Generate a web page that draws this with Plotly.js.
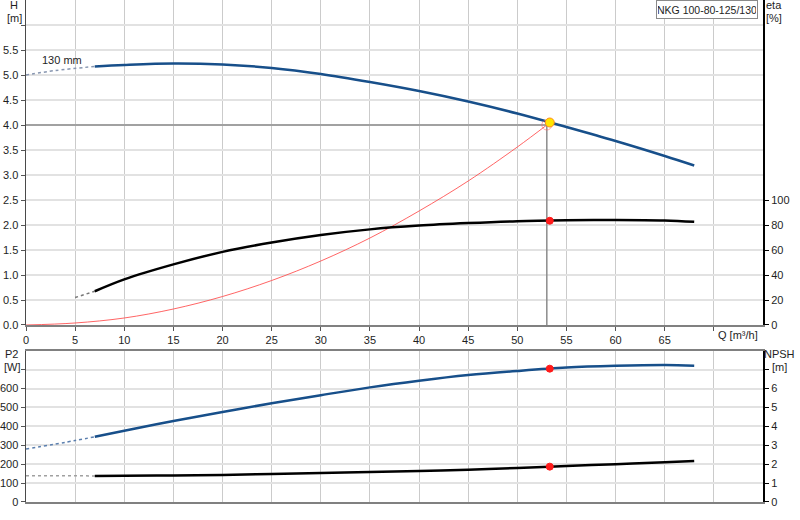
<!DOCTYPE html>
<html>
<head>
<meta charset="utf-8">
<script src="https://cdn.plot.ly/plotly-3.0.1.min.js"></script>
<style>
  html, body { margin: 0; padding: 0; background: #fff; }
  #chart { width: 800px; height: 520px; }
</style>
</head>
<body>
<div id="chart"></div>
<script>
// Pump curve: head / efficiency on top, power / NPSH below

const pumpName = 'NKG 100-80-125/130';
const impellerLabel = '130 mm';

// Flow values (m³/h) along the drawn curves
const qCurve = [7, 10, 15, 20, 25, 30, 35, 40, 45, 50, 55, 60, 65, 68];

// Head H [m]
const headExtQ = [0, 3, 7];
const headExt = [5.0, 5.09, 5.17];
const head = [5.17, 5.20, 5.23, 5.21, 5.14, 5.02, 4.86, 4.68, 4.47, 4.23, 3.96, 3.68, 3.38, 3.19];

// Efficiency eta [%]
const etaExtQ = [5, 7];
const etaExt = [22, 27];
const eta = [27, 36.5, 48.5, 58.5, 66, 72, 76.5, 79.5, 81.5, 83, 83.7, 84, 83.6, 82.5];

// System curve (red)
const sysQ = [0, 5, 10, 15, 20, 25, 30, 35, 40, 45, 50, 53];
const sysH = [0, 0.04, 0.14, 0.32, 0.57, 0.89, 1.28, 1.74, 2.28, 2.88, 3.56, 4.0];

// Power P2 [W]
const p2ExtQ = [0, 5, 7];
const p2Ext = [280, 325, 345];
const p2 = [345, 377, 428, 476, 522, 565, 606, 641, 671, 693, 711, 720, 724, 721];

// NPSH [m]
const npshExtQ = [0, 7];
const npshExt = [1.39, 1.38];
const npsh = [1.38, 1.39, 1.40, 1.43, 1.48, 1.53, 1.58, 1.64, 1.71, 1.80, 1.90, 2.00, 2.10, 2.17];

// Duty point and operating point
const dutyQ = 53;
const dutyH = 4.0;
const opQ = 53.3;
const opH = 4.05;
const opEta = 83.4;
const opP2 = 705;
const opNpsh = 1.87;

// Tick labels
const qTicks = [0, 5, 10, 15, 20, 25, 30, 35, 40, 45, 50, 55, 60, 65, 70];
const hTicks = [0, 0.5, 1, 1.5, 2, 2.5, 3, 3.5, 4, 4.5, 5, 5.5, 6];
const etaTicks = [0, 20, 40, 60, 80, 100];
const p2Ticks = [0, 100, 200, 300, 400, 500, 600, 700];
const npshTicks = [0, 1, 2, 3, 4, 5, 6, 7];

const BLUE = '#174f8a';
const INK = '#1e1e1e';
const GRID_H = '#e2e2e2';
const GRID_V = '#cbcbcb';
const FONT = { family: 'Liberation Sans, Arial, sans-serif', size: 11, color: INK };

const line = (x, y, xa, ya, color, width, dash, opacity, shape) => ({
  type: 'scatter', mode: 'lines', x, y, xaxis: xa, yaxis: ya,
  line: { color, width, dash: dash || 'solid', shape: shape || 'spline', smoothing: 1 },
  opacity: opacity == null ? 1 : opacity,
  hoverinfo: 'skip', showlegend: false,
});

const dot = (x, y, xa, ya, color, size, outline) => ({
  type: 'scatter', mode: 'markers', x: [x], y: [y], xaxis: xa, yaxis: ya,
  marker: { color, size, line: { color: outline || color, width: 1 } },
  hoverinfo: 'skip', showlegend: false,
});

const traces = [
  // top plot
  line(sysQ, sysH, 'x', 'y', '#ff4a4a', 1, 'solid', 0.85),
  line([0, dutyQ, dutyQ], [dutyH, dutyH, 0], 'x', 'y', '#8c8c8c', 1.5, 'solid', 1, 'linear'),
  line(headExtQ, headExt, 'x', 'y', '#8796b0', 1.5, 'dot'),
  line(qCurve, head, 'x', 'y', BLUE, 2.5),
  line(etaExtQ, etaExt, 'x', 'y2', '#777777', 1.5, 'dot'),
  line(qCurve, eta, 'x', 'y2', '#000000', 2.5),
  {
    type: 'scatter', mode: 'markers', x: [dutyQ], y: [dutyH], xaxis: 'x', yaxis: 'y',
    marker: { symbol: 'circle-open', color: '#ff6b6b', size: 10, line: { width: 1 } },
    opacity: 0.6, hoverinfo: 'skip', showlegend: false,
  },
  dot(opQ, opH, 'x', 'y', '#ffe600', 9, '#ff8c1a'),
  dot(opQ, opEta, 'x', 'y2', '#ff1a1a', 7),
  // bottom plot
  line(p2ExtQ, p2Ext, 'x2', 'y3', '#5b7fae', 1.5, 'dot'),
  line(qCurve, p2, 'x2', 'y3', BLUE, 2.5),
  line(npshExtQ, npshExt, 'x2', 'y4', '#a0a0a0', 1.5, 'dot'),
  line(qCurve, npsh, 'x2', 'y4', '#000000', 2.5),
  dot(opQ, opP2, 'x2', 'y3', '#ff1a1a', 7),
  dot(opQ, opNpsh, 'x2', 'y4', '#ff1a1a', 7),
];

const fmt1 = v => v.toFixed(1);

const X_BASE = {
  range: [0, 75], tickvals: qTicks, showgrid: true, gridcolor: GRID_V, gridwidth: 1,
  zeroline: false, ticks: 'outside', ticklen: 4, tickcolor: '#555',
  showline: true, linecolor: '#808080', linewidth: 2,
};

const annots = [
  { text: 'H', x: -0.016, y: 0.990 },
  { text: '[m]', x: -0.016, y: 0.964 },
  { text: 'eta', x: 1.015, y: 0.990 },
  { text: '[%]', x: 1.015, y: 0.964 },
  { text: 'P2', x: -0.019, y: 0.294 },
  { text: '[W]', x: -0.018, y: 0.268 },
  { text: 'NPSH', x: 1.022, y: 0.294 },
  { text: '[m]', x: 1.022, y: 0.268 },
  { text: 'Q [m³/h]', x: 0.966, y: 0.333 },
].map(a => ({ ...a, xref: 'paper', yref: 'paper', showarrow: false, xanchor: 'center', yanchor: 'middle', font: FONT }));

annots.push({
  text: impellerLabel, x: 3.7, y: 5.3, xref: 'x', yref: 'y', showarrow: false,
  xanchor: 'center', yanchor: 'middle', font: FONT,
});
annots.push({
  text: pumpName, x: 0.924, y: 0.982, xref: 'paper', yref: 'paper', showarrow: false,
  xanchor: 'center', yanchor: 'middle', width: 98, height: 15,
  bgcolor: '#ffffff', bordercolor: '#8a8a8a', borderwidth: 1, borderpad: 1,
  font: { ...FONT, size: 10.5 },
});

const layout = {
  width: 800, height: 520,
  margin: { l: 26, r: 37, t: 0, b: 18 },
  paper_bgcolor: '#ffffff', plot_bgcolor: '#ffffff',
  font: FONT,
  showlegend: false,
  xaxis: { ...X_BASE, domain: [0, 1], anchor: 'y', ticktext: qTicks.map(v => v === 70 ? '' : String(v)) },
  yaxis: {
    domain: [0.3526, 1], range: [0, 6.5], tickvals: hTicks,
    ticktext: hTicks.map(v => v === 6 ? '' : fmt1(v)),
    showgrid: true, gridcolor: GRID_H, gridwidth: 2, zeroline: false,
    ticks: 'outside', ticklen: 4, tickcolor: '#555',
    showline: true, linecolor: '#4a4a4a', linewidth: 1.5, anchor: 'x',
  },
  yaxis2: {
    overlaying: 'y', side: 'right', anchor: 'x', range: [0, 260], tickvals: etaTicks,
    showgrid: false, zeroline: false, ticks: 'outside', ticklen: 4, tickcolor: '#000',
    showline: true, linecolor: '#000000', linewidth: 2,
  },
  xaxis2: {
    ...X_BASE, domain: [0, 1], anchor: 'y3', matches: 'x', showticklabels: false,
    ticks: '', mirror: true,
  },
  yaxis3: {
    domain: [0, 0.3014], range: [0, 800], tickvals: p2Ticks,
    ticktext: p2Ticks.map(v => v === 700 ? '' : String(v)),
    showgrid: true, gridcolor: GRID_H, gridwidth: 2, zeroline: false,
    ticks: 'outside', ticklen: 4, tickcolor: '#555',
    showline: true, linecolor: '#4a4a4a', linewidth: 1.5, anchor: 'x2',
  },
  yaxis4: {
    overlaying: 'y3', side: 'right', anchor: 'x2', range: [0, 8], tickvals: npshTicks,
    ticktext: npshTicks.map(v => v === 7 ? '' : String(v)),
    showgrid: false, zeroline: false, ticks: 'outside', ticklen: 4, tickcolor: '#000',
    showline: true, linecolor: '#000000', linewidth: 2,
  },
  annotations: annots,
};

Plotly.newPlot('chart', traces, layout, { displayModeBar: false, staticPlot: true });
</script>
</body>
</html>
